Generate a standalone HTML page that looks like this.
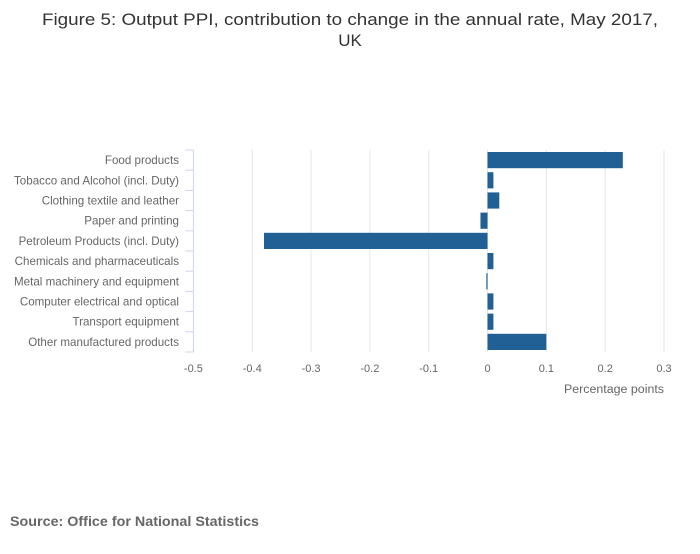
<!DOCTYPE html>
<html><head><meta charset="utf-8"><style>
body{margin:0;background:#fff;width:700px;height:549px;overflow:hidden;font-family:"Liberation Sans",sans-serif}
</style></head><body>
<svg id="chart" width="700" height="549" xmlns="http://www.w3.org/2000/svg">
<text x="350" y="25" text-anchor="middle" font-size="17" fill="#333" textLength="616" lengthAdjust="spacingAndGlyphs">Figure 5: Output PPI, contribution to change in the annual rate, May 2017,</text>
<text x="350" y="46" text-anchor="middle" font-size="17" fill="#333">UK</text>
<g id="grid"></g><g id="bars"></g><g id="axes"></g>
<text x="664" y="393" text-anchor="end" font-size="11.5" fill="#666" textLength="100" lengthAdjust="spacingAndGlyphs">Percentage points</text>
<text x="10" y="526" font-size="14" font-weight="bold" fill="#666" textLength="249" lengthAdjust="spacingAndGlyphs">Source: Office for National Statistics</text>
</svg>
<script>
const categories=["Food products","Tobacco and Alcohol (incl. Duty)","Clothing textile and leather","Paper and printing","Petroleum Products (incl. Duty)","Chemicals and pharmaceuticals","Metal machinery and equipment","Computer electrical and optical","Transport equipment","Other manufactured products"];
const values=[0.23,0.01,0.02,-0.012,-0.38,0.01,-0.002,0.01,0.01,0.1];
const xTicks=[-0.5,-0.4,-0.3,-0.2,-0.1,0,0.1,0.2,0.3];
const xTickLabels=["-0.5","-0.4","-0.3","-0.2","-0.1","0","0.1","0.2","0.3"];
const NS="http://www.w3.org/2000/svg";
const L=193.4,R=664,T=150,B=352,xmin=-0.5,xmax=0.3;
const x=v=>L+(v-xmin)/(xmax-xmin)*(R-L);
const rowH=(B-T)/categories.length;
const y=i=>T+i*rowH;
function mk(t,a,p){const e=document.createElementNS(NS,t);for(const k in a)e.setAttribute(k,a[k]);p.appendChild(e);return e;}
const grid=document.getElementById('grid'),bars=document.getElementById('bars'),axes=document.getElementById('axes');
xTicks.forEach((v,i)=>{
 if(i>0){const g=mk('line',{x1:x(v),x2:x(v),y1:T,y2:B,stroke:'#e6e6e6','stroke-width':1},grid);
 
 }
 const t=mk('text',{x:x(v),y:372,'text-anchor':'middle','font-size':11,fill:'#666'},axes);t.textContent=xTickLabels[i];
 
 
});
const ax=mk('line',{x1:L,x2:L,y1:T,y2:B,stroke:'#ccd6eb','stroke-width':1},axes);


for(let i=0;i<=categories.length;i++){
 const tk=mk('line',{x1:L-8,x2:L,y1:y(i),y2:y(i),stroke:'#ccd6eb','stroke-width':1},axes);
 
 
}
categories.forEach((c,i)=>{
 const t=mk('text',{x:179,y:y(i)+rowH/2+4,'text-anchor':'end','font-size':11.6,fill:'#666'},axes);t.textContent=c;
 
 
 const v=values[i],x0=x(Math.min(0,v)),x1=x(Math.max(0,v));
 const r=mk('rect',{x:x0,y:y(i)+2,width:Math.max(1,x1-x0),height:rowH-4,fill:'#206095'},bars);
 
 
});
</script>
</body></html>
